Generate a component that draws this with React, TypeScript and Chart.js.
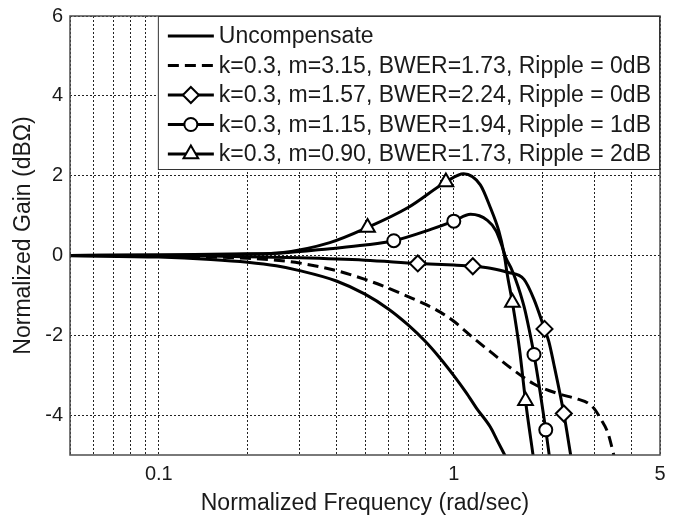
import React, { useEffect, useRef } from 'react';
import { Chart, registerables } from 'chart.js';

Chart.register(...registerables);

// ---- data ----
const xGridValues = [0.05, 0.06, 0.07, 0.08, 0.09, 0.1, 0.2, 0.3, 0.4, 0.5, 0.6, 0.7, 0.8, 0.9, 1, 2, 3, 4, 5];
const xLabeledTicks = [0.1, 1, 5];
const yTickValues = [-4, -2, 0, 2, 4, 6];

const legendLabels = [
  'Uncompensate',
  'k=0.3, m=3.15, BWER=1.73, Ripple = 0dB',
  'k=0.3, m=1.57, BWER=2.24, Ripple = 0dB',
  'k=0.3, m=1.15, BWER=1.94, Ripple = 1dB',
  'k=0.3, m=0.90, BWER=1.73, Ripple = 2dB',
];

const uncompX = [0.05, 0.1, 0.15, 0.2, 0.25, 0.3, 0.4, 0.5, 0.6, 0.7, 0.8, 0.9, 1.0, 1.1, 1.2, 1.33, 1.4, 1.5];
const uncompY = [-0.01, -0.04, -0.1, -0.17, -0.26, -0.38, -0.64, -0.97, -1.34, -1.74, -2.15, -2.58, -3.01, -3.43, -3.85, -4.3, -4.62, -5.05];

const dashX = [0.05, 0.1, 0.15, 0.2, 0.25, 0.3, 0.4, 0.5, 0.6, 0.7, 0.8, 0.9, 1.0, 1.17, 1.33, 1.56, 1.87, 2.25, 2.63, 2.85, 3.0, 3.15, 3.33, 3.5];
const dashY = [0, -0.01, -0.04, -0.07, -0.12, -0.19, -0.38, -0.6, -0.82, -1.03, -1.22, -1.42, -1.65, -2.08, -2.41, -2.82, -3.22, -3.46, -3.6, -3.7, -3.85, -4.1, -4.45, -5.05];

const diamondX = [0.05, 0.1, 0.2, 0.3, 0.5, 0.755, 1.0, 1.16, 1.33, 1.52, 1.73, 1.87, 2.03, 2.1, 2.18, 2.36, 2.49];
const diamondY = [0, 0, -0.03, -0.06, -0.12, -0.2, -0.24, -0.27, -0.32, -0.42, -0.6, -1.1, -1.84, -2.16, -2.7, -3.96, -5.0];
const diamondMarkX = [0.755, 1.16, 2.03, 2.36];
const diamondMarkY = [-0.2, -0.27, -1.84, -3.96];

const circleX = [0.05, 0.1, 0.2, 0.26, 0.38, 0.5, 0.626, 0.84, 1.0, 1.14, 1.3, 1.39, 1.45, 1.5, 1.56, 1.62, 1.68, 1.74, 1.8, 1.87, 1.96, 2.05, 2.11];
const circleY = [0, 0.01, 0.03, 0.06, 0.17, 0.26, 0.37, 0.66, 0.86, 1.03, 0.88, 0.62, 0.28, -0.05, -0.3, -0.6, -0.95, -1.35, -1.85, -2.48, -3.4, -4.37, -5.05];
const circleMarkX = [0.626, 1.0, 1.87, 2.05];
const circleMarkY = [0.37, 0.86, -2.48, -4.37];

const triX = [0.05, 0.1, 0.2, 0.26, 0.38, 0.51, 0.7, 0.94, 1.08, 1.23, 1.33, 1.42, 1.48, 1.52, 1.58, 1.67, 1.75, 1.86];
const triY = [0, 0.01, 0.04, 0.07, 0.32, 0.7, 1.2, 1.84, 2.05, 1.77, 1.2, 0.62, 0.05, -0.5, -1.18, -2.35, -3.64, -5.05];
const triMarkX = [0.51, 0.94, 1.58, 1.75];
const triMarkY = [0.7, 1.84, -1.18, -3.64];

// ---- helpers ----
const pts = (xs: number[], ys: number[]) => xs.map((x, i) => ({ x, y: ys[i] }));
const FONT = '"Liberation Sans", Arial, sans-serif';
const TEXT = '#1a1a1a';
const LEGEND_FONT_SIZE = 23;

function drawMarker(ctx: CanvasRenderingContext2D, kind: string, x: number, y: number) {
  ctx.save();
  ctx.setLineDash([]);
  ctx.lineWidth = 2;
  ctx.strokeStyle = '#000';
  ctx.fillStyle = '#fff';
  ctx.beginPath();
  if (kind === 'circle') {
    ctx.arc(x, y, 6.5, 0, Math.PI * 2);
  } else if (kind === 'diamond') {
    const r = 8;
    ctx.moveTo(x, y - r); ctx.lineTo(x + r, y); ctx.lineTo(x, y + r); ctx.lineTo(x - r, y); ctx.closePath();
  } else if (kind === 'triangle') {
    const r = 8.5;
    for (let k = 0; k < 3; k++) {
      const a = k * (2 * Math.PI / 3);
      const px = x + Math.sin(a) * r;
      const py = y - Math.cos(a) * r;
      if (k === 0) ctx.moveTo(px, py); else ctx.lineTo(px, py);
    }
    ctx.closePath();
  }
  ctx.fill();
  ctx.stroke();
  ctx.restore();
}

const legendKinds = ['none', 'none', 'diamond', 'circle', 'triangle'];

const framePlugin = {
  id: 'frameAndLegend',
  afterDraw(chart: any) {
    const { ctx, chartArea } = chart;
    const { left, right, top, bottom } = chartArea;
    ctx.save();
    ctx.setLineDash([]);
    ctx.strokeStyle = '#4d4d4d';
    ctx.lineWidth = 1.5;
    ctx.strokeRect(left, top, right - left, bottom - top);

    // legend
    ctx.font = `${LEGEND_FONT_SIZE}px ${FONT}`;
    const textW = Math.max(...legendLabels.map((t) => ctx.measureText(t).width));
    const padL = 10, sampleW = 46, gap = 5, padR = 9;
    const boxW = padL + sampleW + gap + textW + padR;
    const bx = right - boxW;
    const by = top;
    const rowH = 29.5;
    const boxH = 154;
    ctx.fillStyle = '#fff';
    ctx.fillRect(bx, by, boxW, boxH);
    ctx.strokeStyle = '#333';
    ctx.lineWidth = 1;
    ctx.strokeRect(bx + 0.5, by + 0.5, boxW - 1, boxH - 1);
    legendLabels.forEach((label, i) => {
      const y = by + 20 + i * rowH;
      const x0 = bx + padL;
      ctx.save();
      ctx.setLineDash(i === 1 ? [11, 6] : []);
      ctx.lineWidth = 3;
      ctx.strokeStyle = '#000';
      ctx.beginPath();
      ctx.moveTo(x0, y);
      ctx.lineTo(x0 + sampleW, y);
      ctx.stroke();
      ctx.restore();
      if (legendKinds[i] !== 'none') drawMarker(ctx, legendKinds[i], x0 + sampleW / 2, y);
      ctx.fillStyle = TEXT;
      ctx.textBaseline = 'middle';
      ctx.textAlign = 'left';
      ctx.font = `${LEGEND_FONT_SIZE}px ${FONT}`;
      ctx.fillText(label, x0 + sampleW + gap, y + 1);
    });
    ctx.restore();
  },
};

export default function App() {
  const canvasRef = useRef<HTMLCanvasElement | null>(null);

  useEffect(() => {
    if (!canvasRef.current) return;
    const lineBase = {
      showLine: true,
      borderColor: '#000',
      borderWidth: 3,
      pointRadius: 0,
      pointHoverRadius: 0,
      cubicInterpolationMode: 'monotone' as const,
      order: 1,
    };
    const markBase = {
      showLine: false,
      pointBackgroundColor: '#fff',
      pointBorderColor: '#000',
      pointBorderWidth: 2,
      order: 0,
    };
    const chart = new Chart(canvasRef.current, {
      type: 'scatter',
      data: {
        datasets: [
          { ...markBase, label: 'tm', data: pts(triMarkX, triMarkY), pointStyle: 'triangle', pointRadius: 8.5 },
          { ...markBase, label: 'cm', data: pts(circleMarkX, circleMarkY), pointStyle: 'circle', pointRadius: 6.5 },
          { ...markBase, label: 'dm', data: pts(diamondMarkX, diamondMarkY), pointStyle: 'rectRot', pointRadius: 8 },
          { ...lineBase, label: legendLabels[4], data: pts(triX, triY) },
          { ...lineBase, label: legendLabels[3], data: pts(circleX, circleY) },
          { ...lineBase, label: legendLabels[2], data: pts(diamondX, diamondY) },
          { ...lineBase, label: legendLabels[1], data: pts(dashX, dashY), borderDash: [11, 6] },
          { ...lineBase, label: legendLabels[0], data: pts(uncompX, uncompY) },
        ] as any,
      },
      options: {
        responsive: false,
        animation: false,
        events: [],
        layout: { padding: { top: 9, right: 29, left: 0, bottom: 0 } },
        plugins: {
          legend: { display: false },
          tooltip: { enabled: false },
          title: { display: false },
        },
        scales: {
          x: {
            type: 'logarithmic',
            min: 0.05,
            max: 5,
            afterBuildTicks: (scale: any) => {
              scale.ticks = xGridValues.map((v) => ({ value: v }));
            },
            afterFit: (scale: any) => {
              scale.height = 64;
            },
            ticks: {
              autoSkip: false,
              maxRotation: 0,
              minRotation: 0,
              padding: 9,
              color: TEXT,
              font: { family: FONT, size: 20, lineHeight: 1 },
              callback: (v: any) => (xLabeledTicks.includes(Number(v)) ? String(v) : ''),
            },
            grid: { color: '#222', lineWidth: 1, drawTicks: false },
            border: { display: false, dash: [2, 2] },
            title: {
              display: true,
              text: 'Normalized Frequency (rad/sec)',
              color: TEXT,
              font: { family: FONT, size: 23, lineHeight: 1.2 },
              padding: { top: 0, bottom: 2 },
            },
          },
          y: {
            type: 'linear',
            min: -5,
            max: 6,
            afterBuildTicks: (scale: any) => {
              scale.ticks = yTickValues.map((v) => ({ value: v }));
            },
            afterFit: (scale: any) => {
              scale.width = 70;
            },
            ticks: {
              padding: 7,
              color: TEXT,
              font: { family: FONT, size: 20, lineHeight: 0.9 },
            },
            grid: { color: '#222', lineWidth: 1, drawTicks: false },
            border: { display: false, dash: [2, 2] },
            title: {
              display: true,
              text: 'Normalized Gain (dBΩ)',
              color: TEXT,
              font: { family: FONT, size: 23, lineHeight: 1.2 },
              padding: { top: 10, bottom: 0 },
            },
          },
        },
      } as any,
      plugins: [framePlugin],
    });
    return () => chart.destroy();
  }, []);

  return (
    <div style={{ position: 'fixed', left: 0, top: 0, width: 689, height: 519, background: '#fff' }}>
      <canvas ref={canvasRef} width={689} height={519} style={{ display: 'block' }} />
    </div>
  );
}
